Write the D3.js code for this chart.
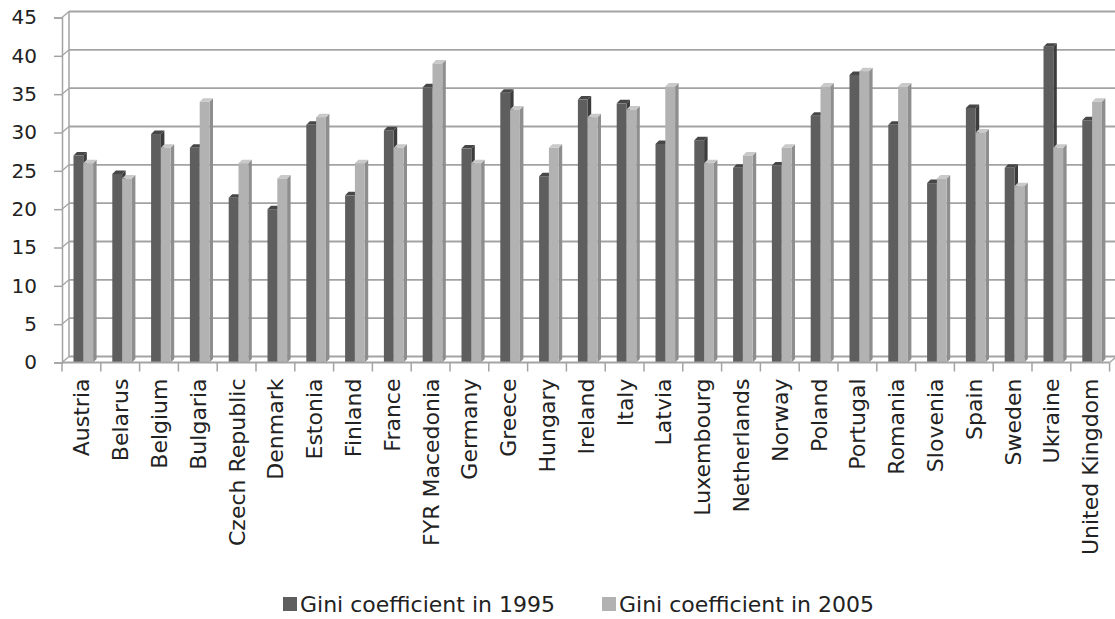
<!DOCTYPE html>
<html>
<head>
<meta charset="utf-8">
<script src="https://cdn.jsdelivr.net/npm/d3@7"></script>
<style>
  body { margin: 0; background: #fff; }
  svg { display: block; }
  text { font-family: "DejaVu Sans", Verdana, sans-serif; fill: #222; }
</style>
</head>
<body>
<div id="viz"></div>
<script>
// countries on the x axis
var countries = ["Austria", "Belarus", "Belgium", "Bulgaria", "Czech Republic", "Denmark",
  "Estonia", "Finland", "France", "FYR Macedonia", "Germany", "Greece", "Hungary", "Ireland",
  "Italy", "Latvia", "Luxembourg", "Netherlands", "Norway", "Poland", "Portugal", "Romania",
  "Slovenia", "Spain", "Sweden", "Ukraine", "United Kingdom"]

// Gini coefficient
var gini1995 = [27.0, 24.6, 29.8, 28.0, 21.5, 20.0, 31.0, 21.8, 30.3, 35.9, 27.9, 35.2, 24.3,
  34.3, 33.8, 28.5, 29.0, 25.4, 25.7, 32.2, 37.5, 31.0, 23.4, 33.2, 25.4, 41.2, 31.6]
var gini2005 = [26, 24, 28, 34, 26, 24, 32, 26, 28, 39, 26, 33, 28, 32, 33, 36, 26, 27, 28,
  36, 38, 36, 24, 30, 23, 28, 34]

var seriesNames = ["Gini coefficient in 1995", "Gini coefficient in 2005"]
var yTicks = [0, 5, 10, 15, 20, 25, 30, 35, 40, 45]

function giniChart() {
  let width = 1115
  let height = 619

  let svg = d3.select('#viz').append('svg')
    .attr('width', width)
    .attr('height', height)

  let left = 62
  let right = 1109.6
  let xScale = d3.scaleBand()
    .range([left, right])
    .domain(countries)
    .padding(0)

  let yScale = d3.scaleLinear()
    .range([362.5, 17.5])
    .domain([0, 45])

  // depth of the back wall
  let wx = 7
  let wy = -6
  let gridColor = '#a3a3a3'

  // back wall grid lines with the little diagonal to the front tick
  let grid = svg.append('g')
  yTicks.forEach(function (t) {
    let y = yScale(t)
    grid.append('line')
      .attr('x1', left + wx).attr('y1', y + wy)
      .attr('x2', width).attr('y2', y + wy)
      .attr('stroke', gridColor).attr('stroke-width', 1.8)
    grid.append('line')
      .attr('x1', left).attr('y1', y)
      .attr('x2', left + wx).attr('y2', y + wy)
      .attr('stroke', gridColor).attr('stroke-width', 1.3)
  })

  // wall edge and floor
  grid.append('line')
    .attr('x1', left + wx).attr('y1', yScale(45) + wy)
    .attr('x2', left + wx).attr('y2', yScale(0) + wy)
    .attr('stroke', gridColor).attr('stroke-width', 1.5)
  grid.append('line')
    .attr('x1', right).attr('y1', yScale(0))
    .attr('x2', right + wx).attr('y2', yScale(0) + wy)
    .attr('stroke', gridColor).attr('stroke-width', 1.3)

  // front vertical axis
  svg.append('g')
    .attr('transform', `translate(${left}, 0)`)
    .call(d3.axisLeft(yScale).tickValues(yTicks).tickSize(8).tickPadding(17))
    .call(g => g.select('.domain').attr('stroke', gridColor).attr('stroke-width', 1.5))
    .call(g => g.selectAll('.tick line').attr('stroke', gridColor).attr('stroke-width', 1.5))
    .call(g => g.selectAll('.tick text')
      .attr('font-size', 20)
      .attr('font-family', '"DejaVu Sans", Verdana, sans-serif')
      .attr('fill', '#222'))

  // bars, dark series first so the light one sits in front
  let bw = 9.8
  let off = 11.5
  let dx = 3.5
  let dy = -3.5
  let styles = [
    { front: '#5e5e5e', side: '#3c3c3c', top: '#474747', values: gini1995 },
    { front: '#b2b2b2', side: '#8e8e8e', top: '#c9c9c9', values: gini2005 }
  ]

  let barGroups = svg.selectAll('.cat')
    .data(countries)
    .enter()
    .append('g')
    .attr('class', 'cat')

  styles.forEach(function (s, k) {
    barGroups.each(function (c, i) {
      let g = d3.select(this)
      let x0 = xScale(c) + off + k * bw
      let x1 = x0 + bw
      let yt = yScale(s.values[i])
      let yb = yScale(0)
      g.append('polygon')
        .attr('points', [[x1, yt], [x1 + dx, yt + dy], [x1 + dx, yb + dy], [x1, yb]].join(' '))
        .attr('fill', s.side)
      g.append('polygon')
        .attr('points', [[x0, yt], [x0 + dx, yt + dy], [x1 + dx, yt + dy], [x1, yt]].join(' '))
        .attr('fill', s.top)
      g.append('rect')
        .attr('x', x0)
        .attr('y', yt)
        .attr('width', bw)
        .attr('height', yb - yt)
        .attr('fill', s.front)
    })
  })

  // floor front edge and category ticks
  svg.append('line')
    .attr('x1', left).attr('y1', yScale(0))
    .attr('x2', right).attr('y2', yScale(0))
    .attr('stroke', gridColor).attr('stroke-width', 1.8)

  let edges = countries.map((c) => xScale(c)).concat([right])
  svg.append('g').selectAll('line')
    .data(edges)
    .enter()
    .append('line')
    .attr('x1', (d) => d).attr('x2', (d) => d)
    .attr('y1', yScale(0)).attr('y2', yScale(0) + 9)
    .attr('stroke', gridColor).attr('stroke-width', 1.5)

  svg.append('g')
    .attr('transform', `translate(0, ${yScale(0)})`)
    .call(d3.axisBottom(xScale).tickSize(0))
    .call(g => g.select('.domain').remove())
    .call(g => g.selectAll('.tick text')
      .attr('transform', 'rotate(-90)')
      .attr('x', -16)
      .attr('y', 0)
      .attr('dy', '0.36em')
      .attr('text-anchor', 'end')
      .attr('font-size', 22)
      .attr('font-family', '"DejaVu Sans", Verdana, sans-serif')
      .attr('fill', '#222'))

  // legend
  let legendX = [283, 602]
  let legend = svg.append('g')
  seriesNames.forEach(function (name, k) {
    legend.append('rect')
      .attr('x', legendX[k])
      .attr('y', 597)
      .attr('width', 14)
      .attr('height', 14)
      .attr('fill', styles[k].front)
    legend.append('text')
      .attr('x', legendX[k] + 17)
      .attr('y', 604)
      .attr('dy', '0.36em')
      .attr('font-size', 22)
      .text(name)
  })
}

giniChart()
</script>
</body>
</html>
